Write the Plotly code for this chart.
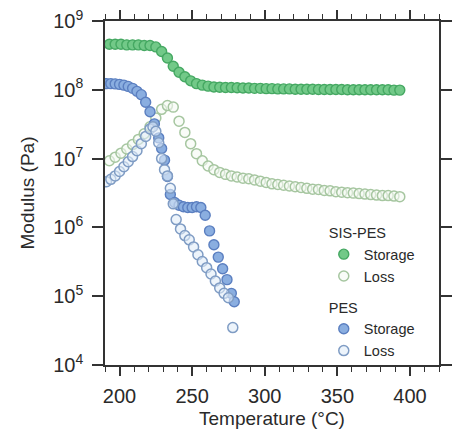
import plotly.graph_objects as go

# ---- data ----
sis_T_storage = [193, 197, 201, 205, 209, 213, 217, 221, 225, 229, 233, 237, 241, 245, 249,
                 253, 257, 261, 265, 269, 273, 277, 281, 285, 289, 293, 297, 301, 305, 309,
                 313, 317, 321, 325, 329, 333, 337, 341, 345, 349, 353, 357, 361, 365, 369,
                 373, 377, 381, 385, 389, 393]
sis_storage = [4.6e8, 4.6e8, 4.6e8, 4.5e8, 4.5e8, 4.5e8, 4.4e8, 4.4e8, 4.2e8, 3.6e8, 2.9e8,
               2.2e8, 1.8e8, 1.55e8, 1.35e8, 1.23e8, 1.17e8, 1.13e8, 1.1e8, 1.09e8, 1.08e8,
               1.08e8, 1.07e8, 1.06e8, 1.06e8, 1.05e8, 1.05e8, 1.04e8, 1.04e8, 1.03e8,
               1.03e8, 1.03e8, 1.02e8, 1.02e8, 1.02e8, 1.02e8, 1.01e8, 1.01e8, 1.01e8,
               1.01e8, 1.01e8, 1.0e8, 1.0e8, 1.0e8, 1.0e8, 1.0e8, 1.0e8, 1.0e8, 1.0e8,
               0.99e8, 0.99e8]

sis_T_loss = sis_T_storage
sis_loss = [9.3e6, 1.05e7, 1.2e7, 1.38e7, 1.6e7, 1.9e7, 2.3e7, 2.9e7, 3.9e7, 5.2e7, 5.9e7,
            5.6e7, 3.5e7, 2.4e7, 1.65e7, 1.18e7, 9.3e6, 7.8e6, 6.9e6, 6.3e6, 5.9e6, 5.6e6,
            5.4e6, 5.2e6, 5.1e6, 4.9e6, 4.7e6, 4.5e6, 4.3e6, 4.2e6, 4.1e6, 4.0e6, 3.9e6,
            3.8e6, 3.7e6, 3.6e6, 3.55e6, 3.45e6, 3.4e6, 3.3e6, 3.25e6, 3.2e6, 3.15e6,
            3.1e6, 3.05e6, 3.0e6, 2.95e6, 2.9e6, 2.9e6, 2.85e6, 2.8e6]

pes_T_storage = [191, 194, 197, 200, 203, 206, 209, 212, 215, 218, 221, 224, 227, 229, 231,
                 233, 235, 238, 241, 244, 247, 250, 253, 256, 259, 262, 265, 268, 271, 274,
                 277, 279]
pes_storage = [1.23e8, 1.23e8, 1.22e8, 1.2e8, 1.17e8, 1.12e8, 1.05e8, 9.5e7, 8.5e7, 6.6e7,
               4.8e7, 3.2e7, 2.0e7, 1.4e7, 9.5e6, 5.5e6, 3.0e6, 2.3e6, 2.1e6, 2.0e6, 1.95e6,
               1.95e6, 2.0e6, 1.95e6, 1.5e6, 8.9e5, 5.6e5, 3.7e5, 2.5e5, 1.74e5, 1.1e5, 8.3e4]

pes_T_loss = [191, 194, 197, 200, 203, 206, 209, 212, 215, 218, 221, 223, 225, 227, 229,
              231, 233, 235, 237, 239, 242, 245, 248, 251, 254, 257, 260, 263, 266, 269,
              272, 275, 278]
pes_loss = [4.6e6, 5.0e6, 5.6e6, 6.5e6, 7.6e6, 9.0e6, 1.07e7, 1.3e7, 1.65e7, 2.1e7, 2.7e7,
            2.9e7, 2.5e7, 1.7e7, 1.0e7, 6.9e6, 5.6e6, 3.7e6, 2.2e6, 1.3e6, 9.5e5, 7.6e5,
            6.6e5, 5.2e5, 4.0e5, 3.2e5, 2.6e5, 2.1e5, 1.66e5, 1.32e5, 1.1e5, 9.5e4, 3.5e4]

y_tickvals = [1e4, 1e5, 1e6, 1e7, 1e8, 1e9]
y_ticktext = ["10<sup>4</sup>", "10<sup>5</sup>", "10<sup>6</sup>", "10<sup>7</sup>",
              "10<sup>8</sup>", "10<sup>9</sup>"]
x_tickvals = [200, 250, 300, 350, 400]

FONT = "Liberation Sans, Arial, sans-serif"
TXT = "#2a2a2a"
MS = 10

fig = go.Figure()
fig.add_trace(go.Scatter(
    x=sis_T_storage, y=sis_storage, mode="markers", name="Storage",
    legendgroup="sis", legendgrouptitle=dict(text="SIS-PES", font=dict(size=14.5, color=TXT)),
    marker=dict(symbol="circle", size=MS, color="#72c988", line=dict(color="#45a862", width=1.4))))
fig.add_trace(go.Scatter(
    x=sis_T_loss, y=sis_loss, mode="markers", name="Loss", legendgroup="sis",
    marker=dict(symbol="circle", size=MS, color="rgba(245,250,243,0.6)",
                line=dict(color="#a6c6a0", width=1.5))))
fig.add_trace(go.Scatter(
    x=pes_T_storage, y=pes_storage, mode="markers", name="Storage",
    legendgroup="pes", legendgrouptitle=dict(text="PES", font=dict(size=14.5, color=TXT)),
    marker=dict(symbol="circle", size=MS, color="#8aaee0", line=dict(color="#5b7fc0", width=1.4))))
fig.add_trace(go.Scatter(
    x=pes_T_loss, y=pes_loss, mode="markers", name="Loss", legendgroup="pes",
    marker=dict(symbol="circle", size=MS, color="rgba(225,236,248,0.6)",
                line=dict(color="#7f9cc4", width=1.5))))

axis_common = dict(showline=True, linecolor="#333", linewidth=1.6, mirror="ticks",
                   ticks="outside", tickcolor="#333", tickwidth=1.6, showgrid=False,
                   zeroline=False, tickfont=dict(family=FONT, size=20, color=TXT))

fig.update_xaxes(range=[190, 420], tickvals=x_tickvals, ticklen=9, ticklabelstandoff=3,
                 minor=dict(dtick=10, tick0=190, ticks="outside", ticklen=5,
                            tickcolor="#333", tickwidth=1.4, showgrid=False),
                 title=dict(text="Temperature (°C)", font=dict(family=FONT, size=19, color=TXT),
                            standoff=6),
                 **axis_common)
fig.update_yaxes(type="log", range=[4, 9], tickvals=y_tickvals, ticktext=y_ticktext,
                 ticklen=11, ticklabelstandoff=5,
                 title=dict(text="Modulus (Pa)", font=dict(family=FONT, size=19, color=TXT),
                            standoff=14),
                 **axis_common)

fig.update_layout(
    width=457, height=438,
    margin=dict(l=105, r=5, t=21, b=73),
    paper_bgcolor="white", plot_bgcolor="white",
    font=dict(family=FONT, color=TXT),
    legend=dict(x=0.655, y=0.432, xanchor="left", yanchor="top",
                bgcolor="rgba(0,0,0,0)", font=dict(size=14.5, color=TXT),
                tracegroupgap=9, itemwidth=30),
    showlegend=True,
)

fig.write_html("out.html")
